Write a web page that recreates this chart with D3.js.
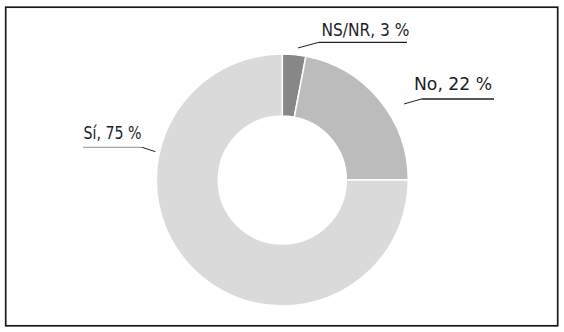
<!DOCTYPE html>
<html>
<head>
<meta charset="utf-8">
<script src="https://cdn.jsdelivr.net/npm/d3@7"></script>
<style>
  html, body { margin: 0; padding: 0; background: #fff; }
  svg text { font-family: "DejaVu Sans Condensed", "Liberation Sans Narrow", sans-serif; fill: #1c1f2a; }
</style>
</head>
<body>
<svg id="chart"></svg>
<script>
// Donut: answers Sí / No / NS/NR, in percent
const categories = ['NS/NR', 'No', 'Sí'];
const values = [3, 22, 75];
const labels = ['NS/NR, 3 %', 'No, 22 %', 'Sí, 75 %'];

const W = 564, H = 332;
const cx = 282.3, cy = 180;
const R = 126, r0 = 64;

const colors = d3.scaleOrdinal()
    .domain(categories)
    .range(['#878787', '#bcbcbc', '#dadada']);

// label placement (leader start angle/radius, text anchor + width, underline)
const labelLayout = [
    { angle: 6.8,  rad: 133,   tx: 321.5, ty: 36,  tw: 88, ux0: 319, ux1: 407, uy: 42.3, line: '#1c1f2a' },
    { angle: 58,   rad: 143.5, tx: 414,   ty: 90,  tw: 78, ux0: 421.5, ux1: 494, uy: 99,  line: '#1c1f2a' },
    { angle: 282.6, rad: 130,  tx: 83.5,  ty: 139, tw: 58, ux0: 83, ux1: 142, uy: 147.3, line: '#a8a8a8' },
];

const svg = d3.select('#chart').attr('width', W).attr('height', H);

svg.append('rect')
    .attr('x', 5.7).attr('y', 7.2)
    .attr('width', 552).attr('height', 318.6)
    .attr('fill', '#fff')
    .attr('stroke', '#1a1a1a')
    .attr('stroke-width', 1.7);

const pie = d3.pie().sort(null).value(d => d.value);
const arc = d3.arc().innerRadius(r0).outerRadius(R);

const slices = pie(categories.map((c, i) => ({ cat: c, value: values[i] })));

const g = svg.append('g').attr('transform', `translate(${cx},${cy})`);

g.selectAll('path')
    .data(slices)
    .join('path')
    .attr('d', arc)
    .attr('fill', d => colors(d.data.cat))
    .attr('stroke', '#fff')
    .attr('stroke-width', 1.5);

// labels with leader lines
const lab = svg.append('g');
slices.forEach((s, i) => {
    const L = labelLayout[i];
    const a = L.angle * Math.PI / 180;
    const px = cx + L.rad * Math.sin(a);
    const py = cy - L.rad * Math.cos(a);
    const joinX = i === 2 ? L.ux1 : L.ux0;
    lab.append('line')
        .attr('x1', px).attr('y1', py)
        .attr('x2', joinX).attr('y2', L.uy)
        .attr('stroke', '#1c1f2a').attr('stroke-width', 1);
    lab.append('line')
        .attr('x1', L.ux0).attr('y1', L.uy)
        .attr('x2', L.ux1).attr('y2', L.uy)
        .attr('stroke', L.line).attr('stroke-width', 1.3);
    lab.append('text')
        .attr('x', L.tx).attr('y', L.ty)
        .attr('font-size', '18px')
        .attr('textLength', L.tw)
        .attr('lengthAdjust', 'spacingAndGlyphs')
        .text(labels[i]);
});
</script>
</body>
</html>
